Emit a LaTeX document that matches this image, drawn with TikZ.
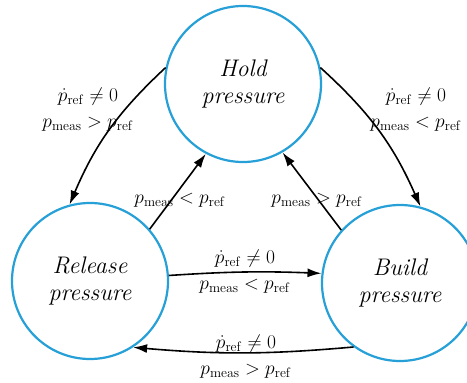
\RequirePackage{fix-cm}
\documentclass[tikz,border=0pt]{standalone}
\usetikzlibrary{arrows.meta,positioning}
\definecolor{stateblue}{RGB}{38,160,215}
\begin{document}
\begin{tikzpicture}[x=1pt, y=-1pt, state/.style={draw=stateblue, circle, line width=2.2pt, minimum size=156pt, align=center, font=\fontsize{24}{27}\selectfont\itshape}, cond/.style={align=center, inner sep=0pt, font=\fontsize{19.5}{26}\selectfont}, arrow/.style={-{Latex[length=14pt,width=9pt]}, line width=1.6pt}]
\useasboundingbox (0,0) rectangle (467,383);
\node[state] (hold) at (243,84) {Hold\\pressure};
\node[state] (release) at (90,281) {Release\\pressure};
\node[state] (build) at (400,283) {Build\\pressure};
\draw[arrow] (hold.168) to[bend right=12] (release.105);
\draw[arrow] (hold.12) to[bend left=12] (build.75);
\draw[arrow] (release.41) -- (hold.242);
\draw[arrow] (build.138) -- (hold.300);
\draw[arrow] (release.4) to[bend left=3] (build.173);
\draw[arrow] (build.234) to[bend left=5] (release.303);
\node[cond] (c1) at (88,110) {$\dot{p}_{\mathrm{ref}}\neq 0$\\$p_{\mathrm{meas}}>p_{\mathrm{ref}}$};
\node[cond] (c2) at (416,110) {$\dot{p}_{\mathrm{ref}}\neq 0$\\$p_{\mathrm{meas}}<p_{\mathrm{ref}}$};
\node[cond] (c3) at (180,200) {$p_{\mathrm{meas}}<p_{\mathrm{ref}}$};
\node[cond] (c4) at (317,200) {$p_{\mathrm{meas}}>p_{\mathrm{ref}}$};
\node[cond] (c5) at (245,272) {$\dot{p}_{\mathrm{ref}}\neq 0$\\$p_{\mathrm{meas}}<p_{\mathrm{ref}}$};
\node[cond] (c6) at (246,357) {$\dot{p}_{\mathrm{ref}}\neq 0$\\$p_{\mathrm{meas}}>p_{\mathrm{ref}}$};
\end{tikzpicture}
\end{document}
